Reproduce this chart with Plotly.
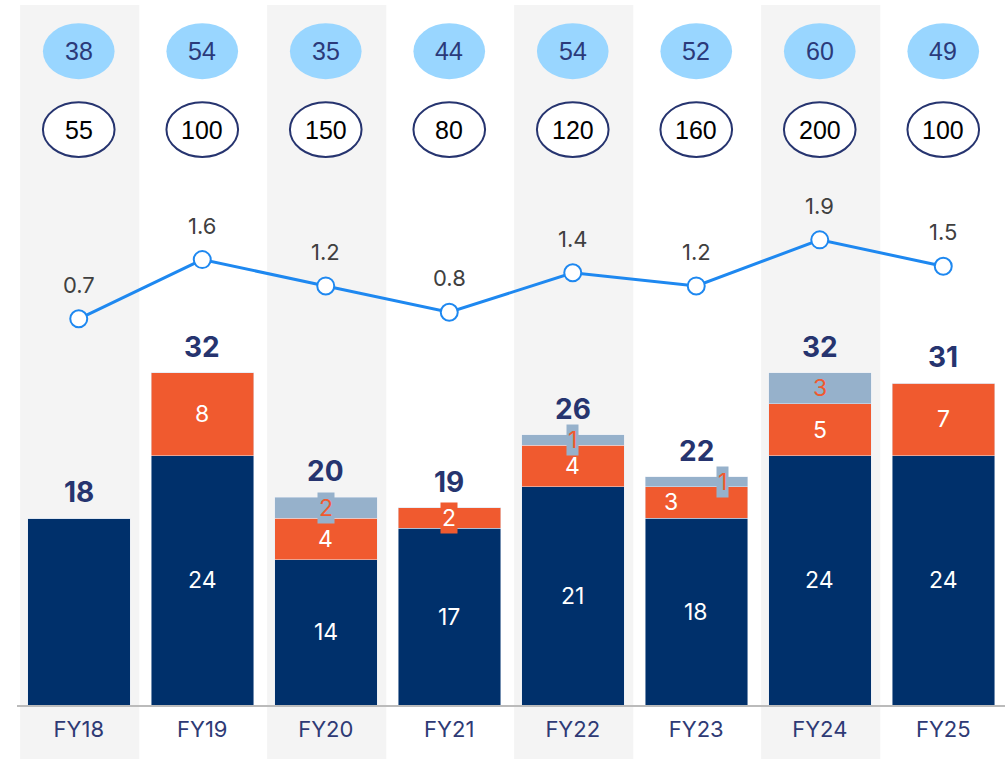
import plotly.graph_objects as go

categories = ["FY18", "FY19", "FY20", "FY21", "FY22", "FY23", "FY24", "FY25"]
base_vals = [18, 24, 14, 17, 21, 18, 24, 24]
orange_vals = [0, 8, 4, 2, 4, 3, 5, 7]
grey_vals = [0, 0, 2, 0, 1, 1, 3, 0]
totals = [18, 32, 20, 19, 26, 22, 32, 31]
line_vals = [0.7, 1.6, 1.2, 0.8, 1.4, 1.2, 1.9, 1.5]
top_bubbles = [38, 54, 35, 44, 54, 52, 60, 49]
bottom_bubbles = [55, 100, 150, 80, 120, 160, 200, 100]
show_base_label = [False, True, True, True, True, True, True, True]

NAVY = "#00306B"
ORANGE = "#F05A2F"
GREYBLUE = "#96B1CB"
LIGHTBLUE = "#99D6FF"
LINEBLUE = "#1E88F0"
TEXTNAVY = "#26346F"
FONT = "Inter"

# horizontal shifts for crowded labels (pixels)
orange_xshift = {"FY23": -25}
grey_xshift = {"FY23": 26}

fig = go.Figure()
fig.add_bar(x=categories, y=base_vals, marker_color=NAVY, width=0.83, hoverinfo="skip")
fig.add_bar(x=categories, y=orange_vals, marker_color=ORANGE, width=0.83, hoverinfo="skip")
fig.add_bar(x=categories, y=grey_vals, marker_color=GREYBLUE, width=0.83, hoverinfo="skip")
fig.add_scatter(x=categories, y=line_vals, yaxis="y2", mode="lines+markers",
                line=dict(color=LINEBLUE, width=3),
                marker=dict(size=17, color="white", line=dict(color=LINEBLUE, width=2)),
                hoverinfo="skip")

shapes = []
annotations = []
for i, cat in enumerate(categories):
    if i % 2 == 0:
        shapes.append(dict(type="rect", xref="x", yref="paper", x0=i - 0.475, x1=i + 0.49,
                           y0=-0.078, y1=1.0, fillcolor="#F4F4F4", line_width=0, layer="below"))
    # bubbles
    shapes.append(dict(type="circle", xref="x", yref="paper", x0=i - 0.29, x1=i + 0.29,
                       y0=0.894, y1=0.974, fillcolor=LIGHTBLUE, line_width=0))
    shapes.append(dict(type="circle", xref="x", yref="paper", x0=i - 0.29, x1=i + 0.29,
                       y0=0.783, y1=0.861, fillcolor="white", line=dict(color="#26346F", width=2)))
    annotations.append(dict(x=cat, y=0.934, xref="x", yref="paper", text=str(top_bubbles[i]),
                            yanchor="middle", showarrow=False,
                            font=dict(family="Liberation Sans", size=25, color="#2B3A7A")))
    annotations.append(dict(x=cat, y=0.822, xref="x", yref="paper", text=str(bottom_bubbles[i]),
                            yanchor="middle", showarrow=False,
                            font=dict(family="Liberation Sans", size=25, color="black")))
    # totals
    annotations.append(dict(x=cat, y=totals[i], xref="x", yref="y", text=f"<b>{totals[i]}</b>",
                            yanchor="bottom", yshift=7, showarrow=False,
                            font=dict(family=FONT, size=28, color=TEXTNAVY, weight=800)))
    # line labels
    annotations.append(dict(x=cat, y=line_vals[i], xref="x", yref="y2", text=str(line_vals[i]),
                            yanchor="bottom", yshift=19, showarrow=False,
                            font=dict(family=FONT, size=22, color="#404040")))
    # segment labels
    if show_base_label[i]:
        annotations.append(dict(x=cat, y=base_vals[i] / 2, xref="x", yref="y", text=str(base_vals[i]),
                                showarrow=False, font=dict(family=FONT, size=23, color="white")))
    if orange_vals[i] > 0:
        small = orange_vals[i] <= 2
        annotations.append(dict(x=cat, y=base_vals[i] + orange_vals[i] / 2, xref="x", yref="y",
                                text=str(orange_vals[i]), showarrow=False,
                                xshift=orange_xshift.get(cat, 0),
                                bgcolor=ORANGE if small else None, borderpad=1,
                                font=dict(family=FONT, size=23, color="white")))
    if grey_vals[i] > 0:
        small = grey_vals[i] <= 2
        annotations.append(dict(x=cat, y=base_vals[i] + orange_vals[i] + grey_vals[i] / 2,
                                xref="x", yref="y", text=str(grey_vals[i]), showarrow=False,
                                xshift=grey_xshift.get(cat, 0),
                                bgcolor=GREYBLUE if small else None, borderpad=1,
                                font=dict(family=FONT, size=23, color=ORANGE)))

fig.update_layout(
    width=1005, height=759,
    margin=dict(l=17, r=0, t=5, b=54),
    barmode="stack",
    showlegend=False,
    plot_bgcolor="white",
    paper_bgcolor="white",
    shapes=shapes,
    annotations=annotations,
    xaxis=dict(type="category", range=[-0.5, 7.5], showline=True, linecolor="#BBBBBB", linewidth=2,
               showgrid=False, ticks="", ticklabelstandoff=4,
               tickfont=dict(family=FONT, size=22, color="#2E3A75")),
    yaxis=dict(range=[0, 67.4], visible=False, showgrid=False, zeroline=False),
    yaxis2=dict(range=[-5.17, 5.47], overlaying="y", visible=False, showgrid=False, zeroline=False),
)

fig.write_html("out.html", config={"displayModeBar": False},
               post_script="document.body.style.margin='0';")
